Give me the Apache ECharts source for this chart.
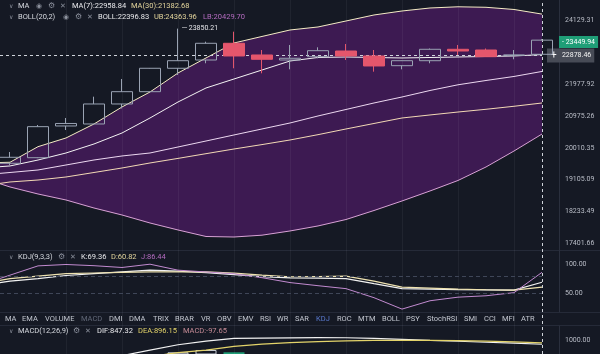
<!DOCTYPE html>
<html>
<head>
<meta charset="utf-8">
<script src="https://cdn.jsdelivr.net/npm/echarts@6/dist/echarts.min.js"></script>
<style>
  html, body { margin: 0; padding: 0; background: #151924; }
  #chart { width: 600px; height: 354px; }
</style>
</head>
<body>
<div id="chart"></div>
<script>
// candle slots 0..20, slot 0 sits just off the left edge
const slots = [0, 1, 2, 3, 4, 5, 6, 7, 8, 9, 10, 11, 12, 13, 14, 15, 16, 17, 18, 19, 20];

const openPrices  = [19420, 19571, 19732, 20673, 20734, 21352, 21741, 22501, 22776, 23342, 22945,
  22776, 22887, 23079, 22911, 22587, 22753, 23137, 23113, 22935, 22968];
const closePrices = [19480, 19744, 20652, 20749, 21352, 21741, 22501, 22753, 23342, 22911, 22800,
  22834, 23090, 22911, 22577, 22753, 23137, 23079, 22887, 22945, 23449.94];
const lowPrices   = [19304.73, 19522, 19720, 20551, 20720, 21211, 21730, 22281, 22667, 22501, 22336,
  22467, 22834, 22776, 22389, 22467, 22667, 22945, 22877, 22800, 22950];
const highPrices  = [19560, 19898, 20703, 20917, 21582, 22150, 22510, 23850.21, 23397, 23743, 23113,
  23284, 23205, 23318, 23113, 22760, 23164, 23284, 23164, 23113, 23480];

const ma7  = [19436, 19494, 19665, 19869, 20134, 20461, 20917, 21414, 21859, 22150, 22444,
  22743, 22860, 22877, 22860, 22844, 22860, 22877, 22894, 22911, 22958.84];
const ma30 = [18929, 19041, 19096, 19181, 19308, 19436, 19580, 19712, 19849, 19986, 20116,
  20252, 20411, 20582, 20749, 20917, 21010, 21101, 21186, 21280, 21382.68];
const bollMid = [19238, 19308, 19379, 19522, 19666, 19782, 19869, 20045, 20222, 20402, 20582,
  20764, 20979, 21180, 21383, 21572, 21779, 21962, 22101, 22232, 22396.83];
const bollUp  = [19579, 19600, 20054, 20312, 20734, 21258, 21731, 22346, 22844, 23352, 23577,
  23802, 23908, 24119, 24333, 24476, 24584, 24627, 24609, 24530, 24363.96];
const bollLow = [19153, 18902, 18708, 18544, 18327, 18140, 17928, 17745, 17576, 17563, 17610,
  17719, 17850, 18020, 18260, 18517, 18791, 19083, 19465, 19927, 20429.70];

const kdjK = [64.3, 71.2, 75.5, 81.0, 84.1, 87.1, 90.2, 88.4, 86.0, 82.6, 79.1,
  76.9, 76.4, 75.7, 66.9, 58.3, 57.4, 56.6, 56.1, 55.7, 69.36];
const kdjD = [67.8, 75.5, 79.8, 84.1, 85.3, 86.4, 87.2, 87.2, 87.2, 85.0, 81.6,
  78.8, 79.3, 79.8, 71.2, 60.9, 59.1, 57.4, 56.4, 55.7, 60.82];
const kdjJ = [65.5, 81.6, 97.6, 100.0, 97.9, 94.8, 100.5, 90.2, 87.1, 84.0, 77.2,
  68.8, 63.4, 58.3, 42.7, 23.0, 37.4, 43.6, 46.0, 51.4, 86.44];

const macdDif  = [-50, 30, 120, 220, 330, 440, 640, 830, 960, 1055, 1070,
  1078, 1083, 1080, 1060, 1025, 985, 955, 920, 885, 847.32];
const macdDea  = [-100, -40, 20, 90, 150, 270, 410, 550, 639, 775, 850,
  905, 945, 970, 985, 990, 985, 975, 960, 935, 896.15];
const macdHist = [80, 150, 200, 260, 320, 380, 450, 561, 643, 561, 440,
  345, 276, 220, 150, 70, 0, -40, -80, -100, -97.65];

const priceTicks = [17401.66, 18233.49, 19105.09, 20010.35, 20975.26, 21977.92, 23028.51, 24129.31];
const kdjTicks = [50, 100];
const kdjGuides = [80, 50];
const macdTicks = [1000];
const gridSlots = [3, 5, 7, 9, 11, 13, 15, 17, 19];

const lastPrice = 23449.94;
const cursorPrice = 22878.46;
const cursorSlot = 20;
const highMark = { slot: 7, value: 23850.21 };
const lowMark = { slot: 0, value: 19304.73 };

const FONT = 'Roboto, "Noto Sans", sans-serif';
const BG = '#151924';
const BAND = '#3d1a52';
const GRID_LINE = 'rgba(255,255,255,0.05)';
const AXIS_TEXT = '#b9bdc7';
const UP = '#9aa3b3';
const DOWN = '#e4566c';

const ln = v => Math.log(v);
const fmt2 = v => v.toFixed(2);
const pairs = (arr, f) => arr.map((v, i) => [slots[i], f ? f(v, i) : v]);

const chart = echarts.init(document.getElementById('chart'));

// first visible candle is 10px in from the left edge, slots are 28px apart
const X_MIN = 1 - 10 / 28;
const X_MAX = 20;

function slotAxis(gridIndex) {
  return {
    type: 'value', gridIndex, min: X_MIN, max: X_MAX,
    axisLine: {show: false}, axisTick: {show: false}, axisLabel: {show: false},
    splitLine: {show: false}
  };
}

function sideAxis(gridIndex, min, max, ticks, toLabel) {
  return {
    type: 'value', gridIndex, position: 'right', min, max, offset: 17,
    axisLine: {show: true, lineStyle: {color: '#2a2f3d'}},
    axisTick: {show: false},
    splitLine: {show: false},
    axisLabel: {
      color: AXIS_TEXT, fontSize: 7, fontFamily: FONT, margin: 6,
      customValues: ticks,
      formatter: toLabel
    }
  };
}

// header texts
function txt(x, y, s, color, size) {
  return {type: 'text', x, y, silent: true,
    style: {text: s, fill: color, font: (size || 7.5) + 'px ' + FONT, verticalAlign: 'middle'}};
}
const ICON = '#8b909c';
function headRow(y, name, nameEnd, withEye, items) {
  const els = [txt(9, y, '∨', ICON, 6), txt(18, y, name, '#d6d9df')];
  let x = nameEnd;
  if (withEye) { els.push(txt(x, y, '◉', ICON, 7)); x += 12; }
  els.push(txt(x, y, '⚙', ICON, 8));
  els.push(txt(x + 12, y, '✕', ICON, 7));
  items.forEach(it => els.push(txt(it[0], y, it[1], it[2])));
  return els;
}

const menuWords = ['MA', 'EMA', 'VOLUME', 'MACD', 'DMI', 'DMA', 'TRIX', 'BRAR', 'VR', 'OBV', 'EMV', 'RSI',
  'WR', 'SAR', 'KDJ', 'ROC', 'MTM', 'BOLL', 'PSY', 'StochRSI', 'SMI', 'CCI', 'MFI', 'ATR'];
const menuX = [5, 22, 45, 81, 109, 129, 153, 175, 201, 217, 238, 260,
  277, 295, 316, 337, 358, 382, 406, 427, 464, 484, 502, 521];

const graphics = []
  .concat(headRow(6, 'MA', 36, true, [
    [72, 'MA(7):22958.84', '#e9e9ec'], [131, 'MA(30):21382.68', '#e3d59c']]))
  .concat(headRow(17, 'BOLL(20,2)', 63, true, [
    [98, 'BOLL:22396.83', '#e9e9ec'], [154, 'UB:24363.96', '#e3d59c'], [203, 'LB:20429.70', '#b46cc0']]))
  .concat(headRow(257, 'KDJ(9,3,3)', 58, false, [
    [81, 'K:69.36', '#e9e9ec'], [111, 'D:60.82', '#e3d59c'], [141, 'J:86.44', '#b46cc0']]))
  .concat(headRow(331, 'MACD(12,26,9)', 73, false, [
    [97, 'DIF:847.32', '#e9e9ec'], [138, 'DEA:896.15', '#e3d36a'], [183, 'MACD:-97.65', '#c48a95']]))
  .concat(menuWords.map((w, i) => txt(menuX[i], 319, w,
    w === 'MACD' ? '#626878' : (w === 'KDJ' ? '#5b7bd0' : '#c3c7d0'))))
  .concat([250, 312, 325].map(y => ({
    type: 'rect', silent: true, z: -1, shape: {x: 0, y, width: 600, height: 1},
    style: {fill: '#252a38'}
  })));

const candleData = slots.map((s, i) =>
  [s, ln(openPrices[i]), ln(closePrices[i]), ln(lowPrices[i]), ln(highPrices[i])]);

const option = {
  backgroundColor: BG,
  animation: false,
  textStyle: {fontFamily: FONT},
  grid: [
    {left: 0, right: 58, top: 0, height: 250},
    {left: 0, right: 58, top: 250, height: 62},
    {left: 0, right: 58, top: 326, height: 28},
    {left: 0, right: 58, top: 0, height: 354}
  ],
  xAxis: [slotAxis(0), slotAxis(1), slotAxis(2), slotAxis(3)],
  yAxis: [
    sideAxis(0, ln(17231), ln(24874), priceTicks.map(ln), v => fmt2(Math.exp(v))),
    sideAxis(1, 18, 125, kdjTicks, v => fmt2(v)),
    sideAxis(2, 500, 1500, macdTicks, v => fmt2(v)),
    {type: 'value', gridIndex: 3, show: false, min: 0, max: 1}
  ],
  graphic: graphics,
  series: [
    {
      // band fill: purple down from the upper band ...
      name: 'UB', type: 'line', xAxisIndex: 0, yAxisIndex: 0, z: 1,
      data: pairs(bollUp, ln), symbol: 'none',
      lineStyle: {color: '#f5ecc5', width: 1},
      areaStyle: {color: BAND, opacity: 1, origin: 'start'}
    },
    {
      // ... and background again below the lower band
      name: 'LB', type: 'line', xAxisIndex: 0, yAxisIndex: 0, z: 2,
      data: pairs(bollLow, ln), symbol: 'none',
      lineStyle: {color: '#d9a2d6', width: 1},
      areaStyle: {color: BG, opacity: 1, origin: 'start'}
    },
    {
      // vertical grid lines through all panes
      name: 'grid', type: 'line', xAxisIndex: 3, yAxisIndex: 3, z: 3,
      data: [], symbol: 'none',
      markLine: {
        symbol: ['none', 'none'], silent: true, label: {show: false},
        lineStyle: {color: GRID_LINE, type: 'solid', width: 1},
        data: gridSlots.map(s => ({xAxis: s}))
      }
    },
    {
      name: 'BOLL', type: 'line', xAxisIndex: 0, yAxisIndex: 0, z: 4,
      data: pairs(bollMid, ln), symbol: 'none', lineStyle: {color: '#ecd8f0', width: 1}
    },
    {
      name: 'MA30', type: 'line', xAxisIndex: 0, yAxisIndex: 0, z: 4,
      data: pairs(ma30, ln), symbol: 'none', lineStyle: {color: '#f3d9b5', width: 1}
    },
    {
      name: 'MA7', type: 'line', xAxisIndex: 0, yAxisIndex: 0, z: 4,
      data: pairs(ma7, ln), symbol: 'none', lineStyle: {color: '#f4f4f4', width: 1}
    },
    {
      name: 'K线', type: 'candlestick', xAxisIndex: 0, yAxisIndex: 0, clip: false, z: 5,
      barWidth: 21, data: candleData, encode: {x: 0, y: [1, 2, 3, 4]},
      itemStyle: {color: 'transparent', color0: DOWN, borderColor: UP, borderColor0: DOWN, borderWidth: 1},
      markPoint: {
        symbol: 'circle', symbolSize: 0, silent: true,
        label: {show: true, position: 'right', distance: 4, color: '#e6e6ea', fontSize: 7, fontFamily: FONT},
        data: [
          {coord: [highMark.slot, ln(highMark.value)], label: {formatter: '─ ' + fmt2(highMark.value)}},
          {coord: [lowMark.slot, ln(lowMark.value)], label: {formatter: '─ ' + fmt2(lowMark.value)}}
        ]
      },
      markLine: {
        symbol: ['none', 'none'], silent: true,
        data: [
          {
            yAxis: ln(cursorPrice),
            lineStyle: {color: '#cfd3da', type: [3, 3], width: 1},
            label: {
              position: 'end', distance: 5, formatter: '{p|+}   ' + fmt2(cursorPrice),
              color: '#f2f2f2', fontSize: 7, fontFamily: FONT, backgroundColor: '#474b56',
              padding: [2, 3, 2, 4],
              rich: {p: {fontSize: 10, color: '#ffffff', fontFamily: FONT}}
            }
          },
          {
            yAxis: ln(lastPrice),
            lineStyle: {color: 'rgba(0,0,0,0)', width: 0},
            label: {
              show: true, position: 'end', distance: 17, formatter: '- ' + fmt2(lastPrice),
              color: '#ffffff', fontSize: 7, fontFamily: FONT, backgroundColor: '#1f9e77',
              padding: [3, 3, 2, 3]
            }
          }
        ]
      }
    },
    {
      name: 'K', type: 'line', xAxisIndex: 1, yAxisIndex: 1, z: 4,
      data: pairs(kdjK), symbol: 'none', lineStyle: {color: '#f2f2f2', width: 1.2},
      markLine: {
        symbol: ['none', 'none'], silent: true, label: {show: false},
        lineStyle: {color: '#3f4658', type: [4, 3], width: 1},
        data: kdjGuides.map(v => ({yAxis: v}))
      }
    },
    {
      name: 'D', type: 'line', xAxisIndex: 1, yAxisIndex: 1, z: 4,
      data: pairs(kdjD), symbol: 'none', lineStyle: {color: '#eee2b0', width: 1.2}
    },
    {
      name: 'J', type: 'line', xAxisIndex: 1, yAxisIndex: 1, z: 4,
      data: pairs(kdjJ), symbol: 'none', lineStyle: {color: '#c28bd0', width: 1}
    },
    {
      name: 'MACD', type: 'bar', xAxisIndex: 2, yAxisIndex: 2, barWidth: 21, z: 4,
      data: macdHist.map((v, i) => {
        const rising = i > 0 && v >= macdHist[i - 1];
        return {
          value: [slots[i], v],
          itemStyle: v >= 0
            ? (rising ? {color: 'transparent', borderColor: '#c8ccd4', borderWidth: 1} : {color: '#1f9e77'})
            : {color: DOWN}
        };
      })
    },
    {
      name: 'DIF', type: 'line', xAxisIndex: 2, yAxisIndex: 2, z: 5,
      data: pairs(macdDif), symbol: 'none', lineStyle: {color: '#f2f2f2', width: 1.2}
    },
    {
      name: 'DEA', type: 'line', xAxisIndex: 2, yAxisIndex: 2, z: 5,
      data: pairs(macdDea), symbol: 'none', lineStyle: {color: '#e3d36a', width: 1.2}
    },
    {
      // crosshair through all panes
      name: 'cursor', type: 'line', xAxisIndex: 3, yAxisIndex: 3, z: 6,
      data: [], symbol: 'none',
      markLine: {
        symbol: ['none', 'none'], silent: true, label: {show: false},
        lineStyle: {color: '#cfd3da', type: [3, 3], width: 1},
        data: [{xAxis: cursorSlot}]
      }
    }
  ]
};

chart.setOption(option);
</script>
</body>
</html>
